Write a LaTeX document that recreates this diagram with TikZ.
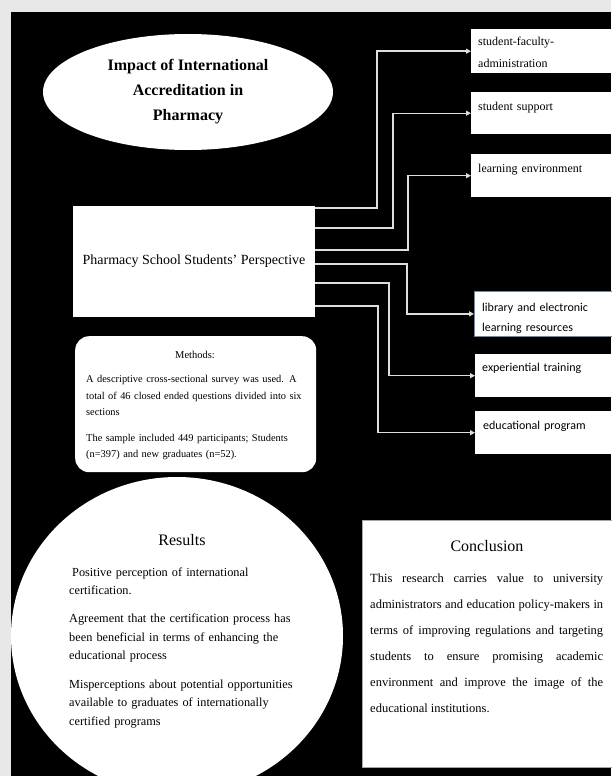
\documentclass[tikz,border=0pt]{standalone}
\usepackage{fontspec}
\setmainfont{Liberation Serif}
\newfontfamily\calibfont{Carlito}
\usetikzlibrary{arrows.meta}
\usetikzlibrary{shapes.geometric}

\definecolor{pagegray}{HTML}{E8E8E8}
\definecolor{wire}{HTML}{DEDEDE}
\definecolor{libblue}{HTML}{6A88A8}

\begin{document}
\begin{tikzpicture}[x = 1pt, y = -1pt,
  wbox/.style = {fill = white, rectangle, inner sep = 0pt},
  topic/.style = {wbox, minimum width = 146pt, anchor = north west},
  toptxt/.style = {anchor = base west, inner sep = 0pt, text width = 125pt,
    align = left, font = \fontsize{12}{21}\selectfont},
  lowtxt/.style = {anchor = base west, inner sep = 0pt, text width = 125pt,
    align = left, font = \calibfont\fontsize{12}{20}\selectfont},
  head/.style = {inner sep = 0pt, font = \fontsize{16}{18}\selectfont},
  conn/.style = {draw = wire, line width = 1.4pt,
    -{Triangle[length = 5pt, width = 5pt]}}]
  \useasboundingbox (0, 0) rectangle (611, 776);
  \fill[pagegray] (0, 0) rectangle (611, 776);
  \fill[black] (11, 12) rectangle (611, 776);

  \node[ellipse, fill = white, inner sep = 0pt, minimum width = 290pt,
    minimum height = 116pt, align = center,
    font = \bfseries\fontsize{16}{25}\selectfont] (title) at (188, 92)
    {Impact of International\\Accreditation in\\Pharmacy};

  \node[wbox, minimum width = 242pt, minimum height = 111pt,
    font = \fontsize{14}{17}\selectfont] (persp) at (194, 261.5)
    {Pharmacy School Students' Perspective};

  \node[topic, minimum height = 44pt] (sfa) at (471, 29) {};
  \node[topic, minimum height = 42pt] (ssup) at (471, 92) {};
  \node[topic, minimum height = 43pt] (lenv) at (471, 154) {};
  \node[topic, draw = libblue, line width = 0.8pt, minimum height = 45pt]
    (lib) at (474, 291) {};
  \node[topic, minimum height = 43pt] (exptr) at (475, 354) {};
  \node[topic, minimum height = 43pt] (edu) at (475, 411) {};

  \node[toptxt] (sfa-t) at (478, 46) {student-faculty-\\administration};
  \node[toptxt] (ssup-t) at (478, 110) {student support};
  \node[toptxt] (lenv-t) at (478, 172) {learning environment};
  \node[lowtxt] (lib-t) at (482, 311) {library and electronic\\learning resources};
  \node[lowtxt] (exptr-t) at (482, 371) {experiential training};
  \node[lowtxt] (edu-t) at (483, 429) {educational program};

  \coordinate (o1) at (315, 208);
  \coordinate (o2) at (315, 228);
  \coordinate (o3) at (315, 250);
  \coordinate (o4) at (315, 264);
  \coordinate (o5) at (315, 283);
  \coordinate (o6) at (315, 306);

  \draw[conn] (o1) -- ++(62, 0) |- (sfa.west);
  \draw[conn] (o2) -- ++(78, 0) |- (ssup.west);
  \draw[conn] (o3) -- ++(93, 0) |- (lenv.west);
  \draw[conn] (o4) -- ++(92, 0) |- (lib.west);
  \draw[conn] (o5) -- ++(74, 0) |- (exptr.west);
  \draw[conn] (o6) -- ++(63, 0) |- (edu.west);

  \node[wbox, rounded corners = 14pt, minimum width = 241pt,
    minimum height = 136pt, anchor = north west] (meth) at (75, 336) {};
  \node[inner sep = 0pt, font = \fontsize{10.5}{12}\selectfont] (meth-h)
    at (195, 355) {Methods:};
  \node[anchor = base west, inner sep = 0pt, text width = 222pt, align = left,
    font = \fontsize{10.4}{16.5}\selectfont] (meth-t) at (86, 382.5)
    {A descriptive cross-sectional survey was used. A\\
     total of 46 closed ended questions divided into six\\
     sections\\[9pt]
     The sample included 449 participants; Students\\
     (n=397) and new graduates (n=52).};

  \node[ellipse, fill = white, inner sep = 0pt, minimum width = 332pt,
    minimum height = 318pt] (res) at (177, 636) {};
  \node[head] (res-h) at (182, 540) {Results};
  \node[anchor = base west, inner sep = 0pt, text width = 230pt, align = left,
    font = \fontsize{12.3}{18.6}\selectfont] (res-t) at (69, 576)
    {\hspace{3pt}Positive perception of international\\
     certification.\\[9.5pt]
     Agreement that the certification process has\\
     been beneficial in terms of enhancing the\\
     educational process\\[9.5pt]
     Misperceptions about potential opportunities\\
     available to graduates of internationally\\
     certified programs};

  \node[wbox, draw = gray!70, line width = 0.8pt, minimum width = 254pt,
    minimum height = 247pt, anchor = north west] (concl) at (362, 520) {};
  \node[head] (concl-h) at (487, 546) {Conclusion};
  \node[anchor = base west, inner sep = 0pt, text width = 233pt,
    align = justify, font = \fontsize{12.5}{26}\selectfont] (concl-t)
    at (370, 582)
    {This research carries value to university\linebreak
     administrators and education policy-makers in\linebreak
     terms of improving regulations and targeting\linebreak
     students to ensure promising academic\linebreak
     environment and improve the image of the\linebreak
     educational institutions.};
\end{tikzpicture}
\end{document}
